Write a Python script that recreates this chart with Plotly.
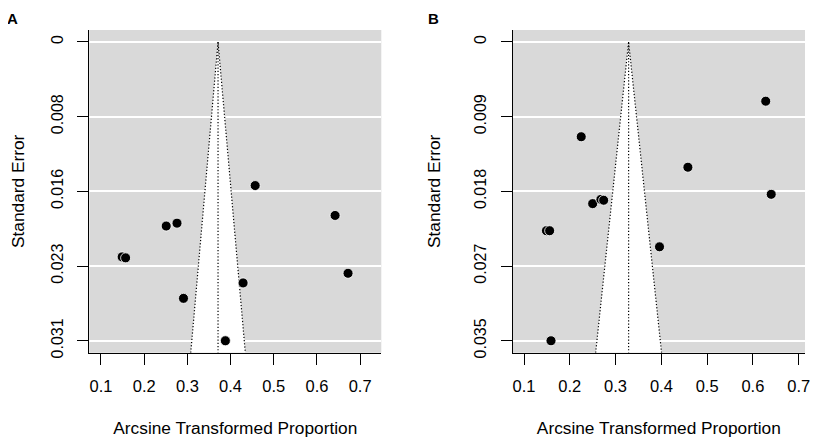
import plotly.graph_objects as go

# panel A: estimates (arcsine transformed) and their standard errors
a_est = [0.457, 0.642, 0.276, 0.251, 0.149, 0.157, 0.672, 0.429, 0.291, 0.388]
a_se = [0.0149, 0.0180, 0.0188, 0.0191, 0.0223, 0.0224, 0.0240, 0.0250, 0.0266, 0.0310]
a_pooled = 0.371
a_ylabels = ["0", "0.008", "0.016", "0.023", "0.031"]

# panel B
b_est = [0.628, 0.225, 0.458, 0.640, 0.250, 0.268, 0.274, 0.149, 0.156, 0.396, 0.159]
b_se = [0.0070, 0.0112, 0.0148, 0.0180, 0.0191, 0.0186, 0.0187, 0.0223, 0.0223, 0.0242, 0.0353]
b_pooled = 0.3285
b_ylabels = ["0", "0.009", "0.018", "0.027", "0.035"]

x_ticks = [0.1, 0.2, 0.3, 0.4, 0.5, 0.6, 0.7]

FONT = "Liberation Sans, Arial, sans-serif"
BG = "#d9d9d9"
DOTTED = dict(color="black", width=1.2, dash="1.2px,2px")

# the page body has an 8px margin, domains are shifted to make up for it
panels = [
    dict(est=a_est, se=a_se, mu=a_pooled, ylab=a_ylabels, xr=[0.073, 0.749],
         xdom=[0.0981, 0.4503], ax="", letter="A", lx=0.0054),
    dict(est=b_est, se=b_se, mu=b_pooled, ylab=b_ylabels, xr=[0.0753, 0.7138],
         xdom=[0.6088, 0.9614], ax="2", letter="B", lx=0.5127),
]

fig = go.Figure()

for p in panels:
    semax = max(p["se"])
    ybot = semax * 1.04
    xa, ya = "x" + p["ax"], "y" + p["ax"]
    mu = p["mu"]

    # white funnel region
    fig.add_trace(go.Scatter(
        x=[mu - 1.96 * ybot, mu, mu + 1.96 * ybot],
        y=[ybot, 0, ybot],
        fill="toself", fillcolor="white", mode="none",
        xaxis=xa, yaxis=ya, hoverinfo="skip", showlegend=False))
    # dotted funnel edges and centre line
    fig.add_trace(go.Scatter(
        x=[mu - 1.96 * ybot, mu, mu + 1.96 * ybot],
        y=[ybot, 0, ybot],
        mode="lines", line=DOTTED,
        xaxis=xa, yaxis=ya, hoverinfo="skip", showlegend=False))
    fig.add_trace(go.Scatter(
        x=[mu, mu], y=[0, ybot],
        mode="lines", line=DOTTED,
        xaxis=xa, yaxis=ya, hoverinfo="skip", showlegend=False))
    # studies
    fig.add_trace(go.Scatter(
        x=p["est"], y=p["se"], mode="markers",
        marker=dict(color="black", size=10, line=dict(color="white", width=0.8)),
        xaxis=xa, yaxis=ya, showlegend=False))

    yvals = [semax * k / 4 for k in range(5)]
    axis_common = dict(
        showline=True, linecolor="black", linewidth=1.3,
        ticks="outside", ticklen=11, tickwidth=1.3, tickcolor="black",
        zeroline=False, automargin=False,
    )
    fig.layout["xaxis" + p["ax"]] = dict(
        axis_common, domain=p["xdom"], range=p["xr"], anchor=ya,
        tickvals=x_ticks, ticktext=[str(t) for t in x_ticks], showgrid=False,
        tickfont=dict(family=FONT, size=16.5, color="black"),
        ticklabelstandoff=7,
        title=dict(text="Arcsine Transformed Proportion", standoff=28,
                   font=dict(family=FONT, size=17.3, color="black")),
    )
    fig.layout["yaxis" + p["ax"]] = dict(
        axis_common, domain=[0.2271, 0.9507], range=[ybot, -0.04 * semax],
        anchor=xa, tickvals=yvals, ticktext=p["ylab"], tickangle=-90,
        tickfont=dict(family=FONT, size=16, color="black"),
        showgrid=True, gridcolor="white", gridwidth=1.8,
        ticklabelstandoff=8,
        title=dict(text="Standard Error", standoff=27,
                   font=dict(family=FONT, size=17.3, color="black")),
    )
    fig.add_annotation(text="<b>" + p["letter"] + "</b>", x=p["lx"], y=1.0,
                       xref="paper", yref="paper", showarrow=False,
                       xanchor="center", yanchor="top",
                       font=dict(family=FONT, size=15, color="black"))

fig.update_layout(
    width=829, height=446,
    margin=dict(l=0, r=0, t=0, b=0),
    paper_bgcolor="white", plot_bgcolor=BG,
    font=dict(family=FONT, color="black"),
)

fig.write_html("out.html")
